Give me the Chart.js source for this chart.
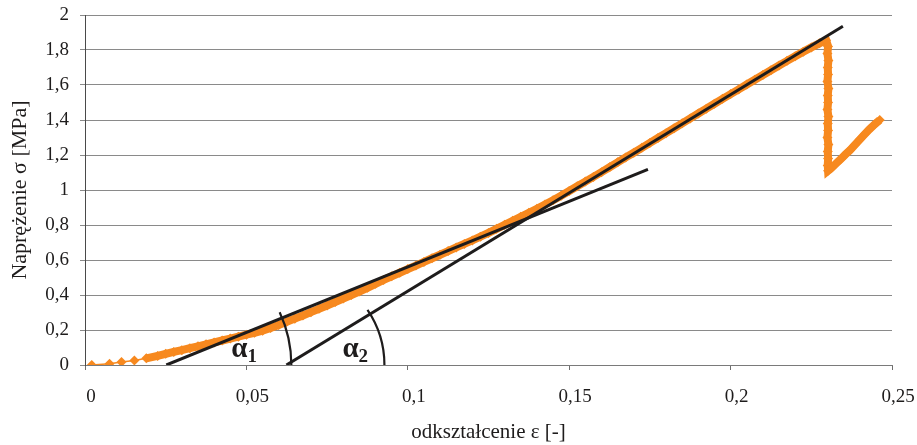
<!DOCTYPE html>
<html>
<head>
<meta charset="utf-8">
<script src="https://cdn.jsdelivr.net/npm/chart.js@4.4.0/dist/chart.umd.min.js"></script>
<style>
    html, body { margin: 0; padding: 0; background: #fff; }
</style>
</head>
<body>
<canvas id="stressChart" width="917" height="445"></canvas>
<script>
const strainX = [
    0.0021, 0.0076, 0.0113, 0.0153, 0.019, 0.0225,
    0.025, 0.0275, 0.03, 0.0325, 0.035, 0.0375, 0.04, 0.0425, 0.045, 0.0475,
    0.05, 0.0525, 0.055, 0.0575, 0.06, 0.0625, 0.065, 0.0675, 0.07, 0.0725,
    0.075, 0.0775, 0.08, 0.0825, 0.085, 0.0875, 0.09, 0.0925, 0.095, 0.0975,
    0.1, 0.1025, 0.105, 0.1075, 0.11, 0.1125, 0.115, 0.1175, 0.12, 0.1225,
    0.125, 0.1275, 0.13, 0.1325, 0.135, 0.1375, 0.14, 0.1425, 0.145, 0.1475,
    0.15, 0.1525, 0.155, 0.1575, 0.16, 0.1625, 0.165, 0.1675, 0.17, 0.1725,
    0.175, 0.1775, 0.18, 0.1825, 0.185, 0.1875, 0.19, 0.1925, 0.195, 0.1975,
    0.2, 0.2025, 0.205, 0.2075, 0.21, 0.2125, 0.215, 0.2175, 0.22, 0.2225,
    0.225, 0.2275, 0.2296,
    0.2302, 0.23, 0.2303, 0.2301, 0.2302, 0.23, 0.2303, 0.2301, 0.2302, 0.23,
    0.2303, 0.2301, 0.2302, 0.23, 0.2303, 0.2301, 0.2302, 0.2301, 0.2302,
    0.2312, 0.2326, 0.2341, 0.2355, 0.237, 0.2385, 0.24, 0.2415, 0.243, 0.2446, 0.2462
];
const stressY = [
    0, 0.007, 0.017, 0.026, 0.038, 0.052,
    0.064, 0.075, 0.085, 0.096, 0.107, 0.118, 0.129, 0.14, 0.151, 0.162,
    0.173, 0.184, 0.196, 0.211, 0.229, 0.247, 0.265, 0.283, 0.302, 0.321,
    0.34, 0.36, 0.38, 0.4, 0.42, 0.441, 0.464, 0.486, 0.507, 0.527,
    0.548, 0.568, 0.589, 0.61, 0.63, 0.651, 0.672, 0.692, 0.712, 0.733,
    0.755, 0.778, 0.801, 0.824, 0.847, 0.87, 0.893, 0.917, 0.941, 0.967,
    0.994, 1.021, 1.048, 1.075, 1.102, 1.13, 1.158, 1.186, 1.213, 1.241,
    1.269, 1.297, 1.325, 1.353, 1.381, 1.409, 1.437, 1.465, 1.493, 1.521,
    1.548, 1.575, 1.603, 1.63, 1.657, 1.684, 1.711, 1.738, 1.764, 1.79,
    1.815, 1.838, 1.856,
    1.82, 1.78, 1.74, 1.7, 1.66, 1.62, 1.58, 1.54, 1.5, 1.46,
    1.42, 1.38, 1.34, 1.3, 1.26, 1.22, 1.18, 1.14, 1.11,
    1.125, 1.15, 1.176, 1.202, 1.228, 1.258, 1.288, 1.318, 1.347, 1.375, 1.4
];

// Tangent lines (start on the strain axis)
const tangent1X = [0.0252, 0.1744];
const tangent1Y = [0, 1.118];
const tangent2X = [0.0624, 0.2348];
const tangent2Y = [0, 1.936];
const angleSubscripts = ['1', '2'];

// Axis ticks
const xTickValues = [0, 0.05, 0.1, 0.15, 0.2, 0.25];
const yTickValues = [0, 0.2, 0.4, 0.6, 0.8, 1, 1.2, 1.4, 1.6, 1.8, 2];

const ORANGE = '#f7891f';
const INK = '#1e1c1c';
const SERIF = "'Liberation Serif', 'Times New Roman', serif";

function toPoints(xs, ys) {
    return xs.map((x, i) => ({ x: x, y: ys[i] }));
}

function commaFormat(v) {
    return String(+Number(v).toFixed(2)).replace('.', ',');
}

// Draws the angle arcs and the alpha labels at the foot of each tangent
const angleMarks = {
    id: 'angleMarks',
    afterDatasetsDraw(chart) {
        const ctx = chart.ctx;
        const xs = chart.scales.x;
        const ys = chart.scales.y;
        const marks = [
            { lx: tangent1X, ly: tangent1Y, r: 125, dx: 65, sub: angleSubscripts[0] },
            { lx: tangent2X, ly: tangent2Y, r: 98, dx: 56, sub: angleSubscripts[1] }
        ];
        ctx.save();
        marks.forEach(m => {
            const x0 = xs.getPixelForValue(m.lx[0]);
            const y0 = ys.getPixelForValue(m.ly[0]);
            const x1 = xs.getPixelForValue(m.lx[1]);
            const y1 = ys.getPixelForValue(m.ly[1]);
            const ang = Math.atan2(y1 - y0, x1 - x0);

            ctx.beginPath();
            ctx.strokeStyle = INK;
            ctx.lineWidth = 2.2;
            ctx.arc(x0, y0, m.r, ang - 0.05, 0);
            ctx.stroke();

            ctx.fillStyle = INK;
            ctx.textAlign = 'left';
            ctx.textBaseline = 'alphabetic';
            ctx.font = "bold 29px " + SERIF;
            const ax = x0 + m.dx;
            const ay = y0 - 8;
            ctx.fillText('α', ax, ay);
            const w = ctx.measureText('α').width;
            ctx.font = "bold 19px " + SERIF;
            ctx.fillText(m.sub, ax + w, ay + 5);
        });
        ctx.restore();
    }
};

const ctx = document.getElementById('stressChart').getContext('2d');
const stressChart = new Chart(ctx, {
    type: 'scatter',
    data: {
        datasets: [
            {
                label: 'pomiar',
                data: toPoints(strainX, stressY),
                showLine: true,
                borderColor: ORANGE,
                backgroundColor: ORANGE,
                borderWidth: 8,
                segment: {
                    borderWidth: c => c.p0DataIndex < 4 ? 1.5 : 8
                },
                pointStyle: 'rectRot',
                pointRadius: 5,
                pointBorderWidth: 0,
                order: 2
            },
            {
                label: 'styczna 1',
                data: toPoints(tangent1X, tangent1Y),
                showLine: true,
                borderColor: INK,
                borderWidth: 3,
                pointRadius: 0,
                order: 1
            },
            {
                label: 'styczna 2',
                data: toPoints(tangent2X, tangent2Y),
                showLine: true,
                borderColor: INK,
                borderWidth: 3,
                pointRadius: 0,
                order: 1
            }
        ]
    },
    options: {
        responsive: false,
        animation: false,
        devicePixelRatio: 1,
        layout: { padding: { top: 15, right: 25, left: 0, bottom: 0 } },
        plugins: {
            legend: { display: false },
            tooltip: { enabled: false }
        },
        scales: {
            x: {
                type: 'linear',
                min: 0,
                max: 0.25,
                afterFit: s => { s.height = 80; s.paddingLeft = 0; s.paddingRight = 0; },
                afterBuildTicks: s => { s.ticks = xTickValues.map(v => ({ value: v })); },
                grid: {
                    drawOnChartArea: false,
                    drawTicks: true,
                    tickLength: 5,
                    color: '#6e6e6e'
                },
                border: { display: true, color: '#7a7a7a', width: 1 },
                ticks: {
                    callback: v => commaFormat(v),
                    font: { family: SERIF, size: 19 },
                    color: INK,
                    padding: 16,
                    labelOffset: 6,
                    maxRotation: 0
                },
                title: {
                    display: true,
                    text: 'odkształcenie ε [-]',
                    font: { family: SERIF, size: 21 },
                    color: INK,
                    padding: { top: 0, bottom: 0 }
                }
            },
            y: {
                type: 'linear',
                min: 0,
                max: 2,
                afterFit: s => { s.width = 85; s.paddingTop = 0; s.paddingBottom = 0; },
                afterBuildTicks: s => { s.ticks = yTickValues.map(v => ({ value: v })); },
                grid: {
                    color: '#8a8a8a',
                    lineWidth: 1,
                    drawTicks: true,
                    tickLength: 5
                },
                border: { display: true, color: '#4a4a4a', width: 1 },
                ticks: {
                    callback: v => commaFormat(v),
                    font: { family: SERIF, size: 19 },
                    color: INK,
                    padding: 11
                },
                title: {
                    display: true,
                    text: 'Naprężenie σ [MPa]',
                    font: { family: SERIF, size: 22 },
                    color: INK,
                    padding: { top: 7, bottom: 0 }
                }
            }
        }
    },
    plugins: [angleMarks]
});
</script>
</body>
</html>
